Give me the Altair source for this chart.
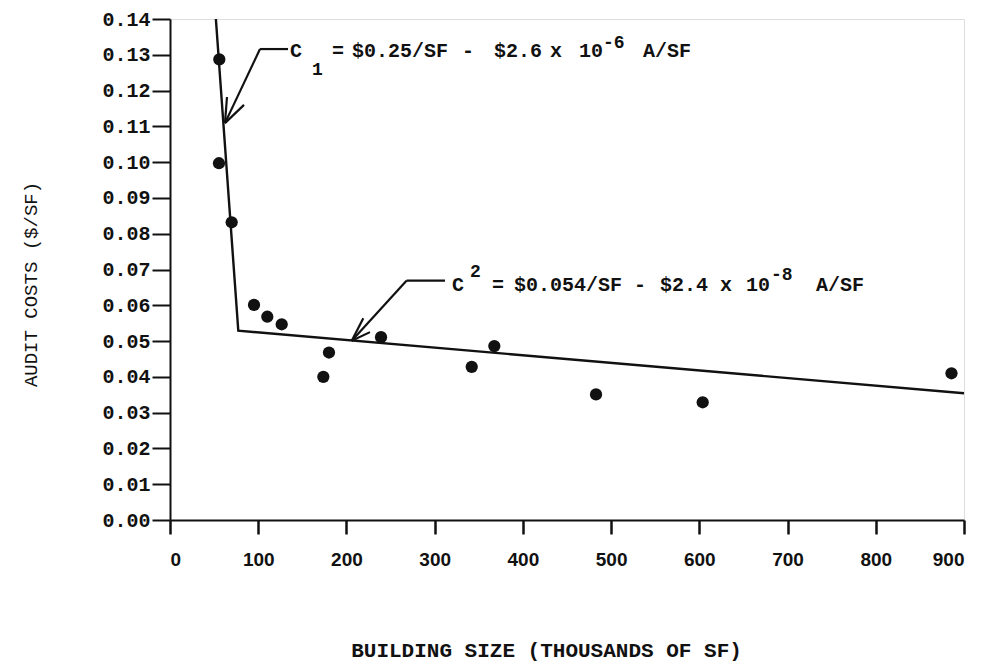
import altair as alt
import pandas as pd

# ---- data ----
building_size = [55.9, 55.5, 69.9, 95.2, 110.3, 126.6, 173.8, 180.2, 239.2, 342.0, 367.6, 482.9, 603.8, 885.8]
audit_cost = [0.1287, 0.0997, 0.0832, 0.0601, 0.0568, 0.0547, 0.0400, 0.0468, 0.0511, 0.0428, 0.0486, 0.0351, 0.0329, 0.0410]

fit_x = [52, 77.4, 900]
fit_y = [0.140, 0.0529, 0.0354]

x_ticks = [0, 100, 200, 300, 400, 500, 600, 700, 800, 900]
y_ticks = [0.00, 0.01, 0.02, 0.03, 0.04, 0.05, 0.06, 0.07, 0.08, 0.09, 0.10, 0.11, 0.12, 0.13, 0.14]

# annotation leader segments (data units): x, y, x2, y2
seg_x = [133.8, 102.0, 62.3, 62.3, 311.7, 268.3, 206.0, 206.0]
seg_y = [0.1316, 0.1316, 0.1109, 0.1109, 0.0669, 0.0669, 0.0501, 0.0501]
seg_x2 = [102.0, 62.3, 83.9, 64.6, 268.3, 206.0, 219.1, 226.7]
seg_y2 = [0.1316, 0.1109, 0.1160, 0.1182, 0.0669, 0.0501, 0.0564, 0.0525]

# annotation text pieces: anchor (data units) of each equation, pieces with pixel offsets
eq_x = [136.0, 319.7]
eq_y = [0.1294, 0.0640]
c1_tokens = ["C", "1", "=", "$0.25/SF", "-", "$2.6", "x", "10", "-6", "A/SF"]
c1_dx = [0, 22, 42, 62, 172, 204, 260, 289, 313, 353]
c1_dy = [0, 18, 0, 0, 0, 0, 0, 0, -9, 0]
c2_tokens = ["C", "2", "=", "$0.054/SF", "-", "$2.4", "x", "10", "-8", "A/SF"]
c2_dx = [0, 18, 40, 62, 182, 208, 268, 294, 319, 364]
c2_dy = [0, -14, 0, 0, 0, 0, 0, 0, -11, 0]

W, H = 794, 501
X_DOM = [0, 900]
Y_DOM = [0, 0.14]
px_x = W / (X_DOM[1] - X_DOM[0])
px_y = H / (Y_DOM[1] - Y_DOM[0])

rows = []
for ex, ey, toks, dxs, dys in [(eq_x[0], eq_y[0], c1_tokens, c1_dx, c1_dy),
                               (eq_x[1], eq_y[1], c2_tokens, c2_dx, c2_dy)]:
    for t, dx, dy in zip(toks, dxs, dys):
        rows.append({"x": ex + dx / px_x, "y": ey - dy / px_y, "t": t,
                     "small": "y" if dy != 0 else "n"})
ann = pd.DataFrame(rows)

FONT = "Liberation Mono"
INK = "#111111"

points = pd.DataFrame({"size": building_size, "cost": audit_cost})
fit = pd.DataFrame({"size": fit_x, "cost": fit_y, "order": list(range(len(fit_x)))})
segs = pd.DataFrame({"x": seg_x, "y": seg_y, "x2": seg_x2, "y2": seg_y2})

xs = alt.Scale(domain=X_DOM, nice=False, zero=False)
ys = alt.Scale(domain=Y_DOM, nice=False, zero=False)

xaxis = alt.Axis(values=x_ticks, format="d", grid=False, tickSize=14, tickWidth=2.5,
                 domainWidth=2, domainColor=INK, tickColor=INK, labelOverlap=False,
                 labelFont="Liberation Sans", labelFontWeight="bold", labelFontSize=19,
                 labelColor=INK, labelPadding=16,
                 title="BUILDING SIZE (THOUSANDS OF SF)", titleFont=FONT, titleFontWeight="bold",
                 titleFontSize=21, titleColor=INK, titleX=376, titleY=136,
                 titleAlign="center", titleBaseline="alphabetic", titleAnchor="start")
yaxis = alt.Axis(values=y_ticks, format=".2f", grid=False, tickSize=18, tickWidth=2,
                 domainWidth=2, domainColor=INK, tickColor=INK, labelOverlap=False,
                 labelFont=FONT, labelFontSize=20, labelFontWeight="bold", labelColor=INK,
                 labelPadding=2,
                 title="AUDIT COSTS ($/SF)", titleFont=FONT, titleFontWeight="normal",
                 titleFontSize=19, titleColor=INK, titleX=-140, titleY=265,
                 titleAlign="center", titleBaseline="middle", titleAngle=270, titleAnchor="start")

X = lambda f: alt.X(f, scale=xs, axis=xaxis)
Y = lambda f: alt.Y(f, scale=ys, axis=yaxis)

pts = alt.Chart(points).mark_circle(size=150, color=INK, opacity=1).encode(
    x=X("size:Q"), y=Y("cost:Q"))

line = alt.Chart(fit).mark_line(color=INK, strokeWidth=2.4).encode(
    x=X("size:Q"), y=Y("cost:Q"), order="order:Q")

leaders = alt.Chart(segs).mark_rule(color=INK, strokeWidth=2.2).encode(
    x=X("x:Q"), y=Y("y:Q"), x2="x2:Q", y2="y2:Q")

ann_txt = alt.Chart(ann).mark_text(font=FONT, fontWeight="bold", align="left",
                                   baseline="alphabetic", color=INK).encode(
    x=X("x:Q"), y=Y("y:Q"), text="t:N",
    size=alt.Size("small:N", scale=alt.Scale(domain=["n", "y"], range=[20, 18]), legend=None))

chart = alt.layer(pts, line, leaders, ann_txt).properties(
    width=W, height=H,
    padding={"left": 162, "top": 11, "right": 10, "bottom": 147},
    autosize=alt.AutoSizeParams(type="none"),
).configure_view(stroke=INK, strokeWidth=2).configure(background="white")

chart.save("out.html", embed_options={"renderer": "svg", "actions": False})
